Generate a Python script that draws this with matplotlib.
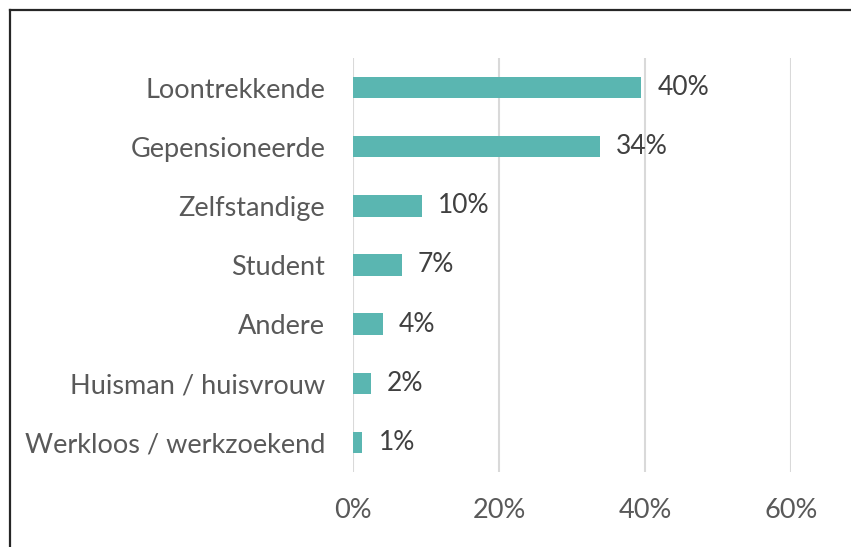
import matplotlib.pyplot as plt
from matplotlib.lines import Line2D
from matplotlib.ticker import FuncFormatter

# data (top to bottom)
categories = ['Loontrekkende', 'Gepensioneerde', 'Zelfstandige', 'Student',
              'Andere', 'Huisman / huisvrouw', 'Werkloos / werkzoekend']
values = [39.5, 33.8, 9.4, 6.7, 4.1, 2.4, 1.3]
value_labels = ['40%', '34%', '10%', '7%', '4%', '2%', '1%']
x_ticks = [0, 20, 40, 60]

plt.rcParams['font.family'] = ['Lato', 'DejaVu Sans']

W, H = 851, 547
fig = plt.figure(figsize=(W / 100, H / 100), dpi=100)
ax = fig.add_axes([353 / W, 1 - 472 / H, (791 - 353) / W, (472 - 58) / H])

pos = list(range(len(categories)))[::-1]
ax.barh(pos, values, height=0.36, color='#5AB6B1', zorder=3)

for p, v, lab in zip(pos, values, value_labels):
    ax.annotate(lab, (v, p), xytext=(11.5, 0), textcoords='offset points',
                va='center', ha='left', fontsize=19, color='#404040')

ax.set_xlim(0, 60)
ax.set_ylim(-0.5, len(categories) - 0.5)
ax.set_xticks(x_ticks)
ax.xaxis.set_major_formatter(FuncFormatter(lambda x, _: f'{x:.0f}%'))
ax.set_yticks(pos)
ax.set_yticklabels(categories)
ax.grid(axis='x', color='#D9D9D9', linewidth=1.5, zorder=0)
for s in ax.spines.values():
    s.set_visible(False)
ax.tick_params(axis='both', length=0, labelsize=19.5, labelcolor='#595959')
ax.tick_params(axis='x', pad=19)
ax.tick_params(axis='y', pad=20)

# outer frame (top and left edges only are visible)
fig.add_artist(Line2D([10 / W, 1], [1 - 10 / H, 1 - 10 / H], color='#262626', lw=1.6))
fig.add_artist(Line2D([10 / W, 10 / W], [0, 1 - 10 / H], color='#262626', lw=1.6))

fig.savefig('out.png', dpi=100)
